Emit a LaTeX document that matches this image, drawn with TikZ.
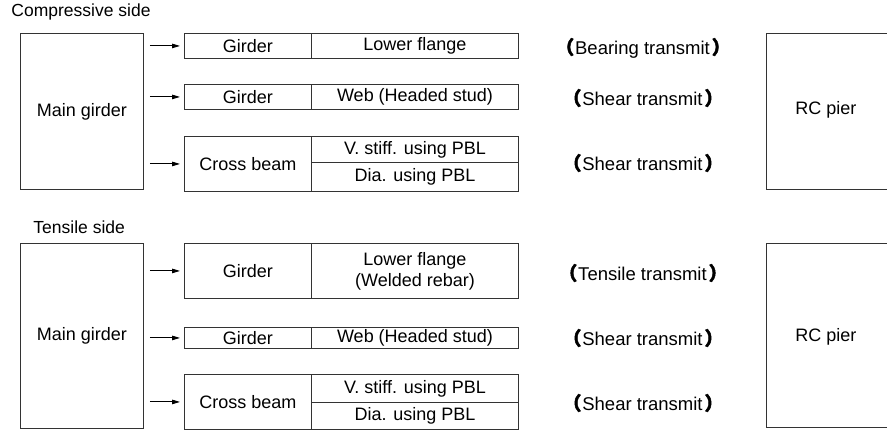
\documentclass[tikz,border=0pt]{standalone}
\usepackage{fontspec}
\setmainfont{Liberation Sans}
\newfontfamily\cjk[FakeBold=2.5]{Noto Sans CJK JP Bold}
\newcommand{\lpar}{{\cjk\bfseries （}\hspace{1pt}}
\newcommand{\rpar}{\hspace{2pt}{\cjk\bfseries ）}}
\usetikzlibrary{arrows.meta}
\begin{document}
\begin{tikzpicture}[x=1pt,y=-1pt,
  line width=0.9pt,
  every node/.style={font=\fontsize{18}{20}\selectfont, inner sep=0pt},
  cell/.style={draw=black!80, rectangle, anchor=north west},
  pierbox/.style={draw=black!80, rectangle, anchor=north west},
  feed/.style={draw=black, line width=0.9pt, -{Stealth[length=8pt,width=4.5pt,inset=0pt]},
               shorten <=6pt, shorten >=4pt},
  note/.style={anchor=center, font=\fontsize{18.5}{20}\selectfont},
  caption/.style={anchor=west}]
\useasboundingbox (0,0) rectangle (887,430);

% ---------- compressive side ----------
\node[caption, font=\fontsize{17.5}{20}\selectfont] (capC) at (11,12) {Compressive side};
\node[pierbox, minimum width=123pt, minimum height=156pt] (mgC) at (20,33) {};
\node at (mgC.center) {Main girder};

\node[cell, minimum width=127pt, minimum height=25pt] (c1a) at (184,33) {Girder};
\node[cell, minimum width=207pt, minimum height=25pt] (c1b) at (311,33) {Lower flange};

\node[cell, minimum width=127pt, minimum height=25pt] (c2a) at (184,84) {Girder};
\node[cell, minimum width=207pt, minimum height=25pt] (c2b) at (311,84) {Web (Headed stud)};

\node[cell, minimum width=127pt, minimum height=55pt] (c3a) at (184,136) {Cross beam};
\node[cell, minimum width=207pt, minimum height=26pt] (c3b) at (311,136) {V. stiff. using PBL};
\node[cell, minimum width=207pt, minimum height=29pt] (c3c) at (311,162) {Dia. using PBL};

\draw[feed] (mgC.east |- c1a.west) -- (c1a.west);
\draw[feed] (mgC.east |- c2a.west) -- (c2a.west);
\draw[feed] (mgC.east |- c3a.west) -- (c3a.west);

\node[note] (tC1) at (643,48) {\lpar Bearing transmit\rpar};
\node[note] (tC2) at (643,98) {\lpar Shear transmit\rpar};
\node[note] (tC3) at (643,163) {\lpar Shear transmit\rpar};

\node[pierbox, minimum width=140pt, minimum height=156pt] (rcC) at (766,33) {};
\node (rcCt) at (826,110) {RC pier};

% ---------- tensile side ----------
\node[caption, font=\fontsize{17.5}{20}\selectfont] (capT) at (33,227) {Tensile side};
\node[pierbox, minimum width=123pt, minimum height=185pt] (mgT) at (20,243) {};
\node at (mgT.center) {Main girder};

\node[cell, minimum width=127pt, minimum height=55pt] (t1a) at (184,243) {Girder};
\node[cell, minimum width=207pt, minimum height=55pt, align=center,
      font=\fontsize{18}{21}\selectfont] (t1b) at (311,243) {Lower flange\\(Welded rebar)};

\node[cell, minimum width=127pt, minimum height=21pt] (t2a) at (184,327) {Girder};
\node[cell, minimum width=207pt, minimum height=21pt] (t2b) at (311,327) {Web (Headed stud)};

\node[cell, minimum width=127pt, minimum height=55pt] (t3a) at (184,374) {Cross beam};
\node[cell, minimum width=207pt, minimum height=28pt] (t3b) at (311,374) {V. stiff. using PBL};
\node[cell, minimum width=207pt, minimum height=27pt] (t3c) at (311,402) {Dia. using PBL};

\draw[feed] (mgT.east |- t1a.west) -- (t1a.west);
\draw[feed] (mgT.east |- t2a.west) -- (t2a.west);
\draw[feed] (mgT.east |- t3a.west) -- (t3a.west);

\node[note] (tT1) at (643,273) {\lpar Tensile transmit\rpar};
\node[note] (tT2) at (643,338) {\lpar Shear transmit\rpar};
\node[note] (tT3) at (643,403) {\lpar Shear transmit\rpar};

\node[pierbox, minimum width=140pt, minimum height=184pt] (rcT) at (766,243) {};
\node (rcTt) at (826,337) {RC pier};
\end{tikzpicture}
\end{document}
